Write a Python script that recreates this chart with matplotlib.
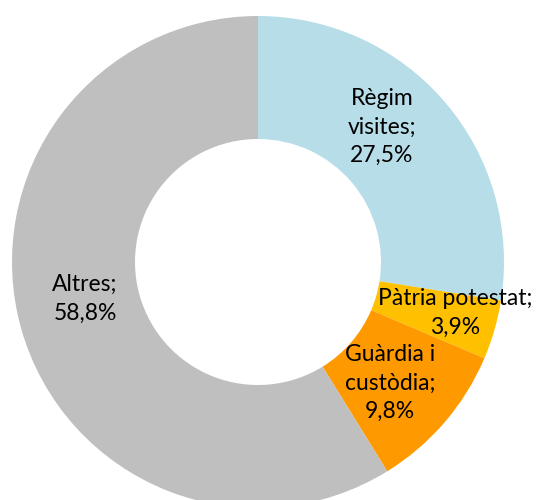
import matplotlib.pyplot as plt

categories = ["Règim\nvisites", "Pàtria potestat", "Guàrdia i\ncustòdia", "Altres"]
values = [27.5, 3.9, 9.8, 58.8]
colors = ["#B7DDE8", "#FFC000", "#FF9900", "#BFBFBF"]

# label centres in pixel coords (x, y from top)
label_pos = [(382, 127), (455, 313), (390, 383), (85, 299)]

fig = plt.figure(figsize=(5.37, 5.0), dpi=100)
ax = fig.add_axes([0, 0, 1, 1])

cx, cy, r = 258, 500 - 262, 246
ax.pie(values, colors=colors, startangle=90, counterclock=False,
       center=(cx, cy), radius=r, frame=True,
       wedgeprops=dict(width=r * 0.5, linewidth=0))
ax.set_xlim(0, 537)
ax.set_ylim(0, 500)
ax.axis("off")

for cat, v, (x, y) in zip(categories, values, label_pos):
    txt = f"{cat};\n{v:.1f}%".replace(".", ",")
    ax.text(x, 500 - y, txt, ha="center", va="center", fontsize=16.5,
            family="Lato", linespacing=1.45, color="#000000")

fig.savefig("out.png", dpi=100)
